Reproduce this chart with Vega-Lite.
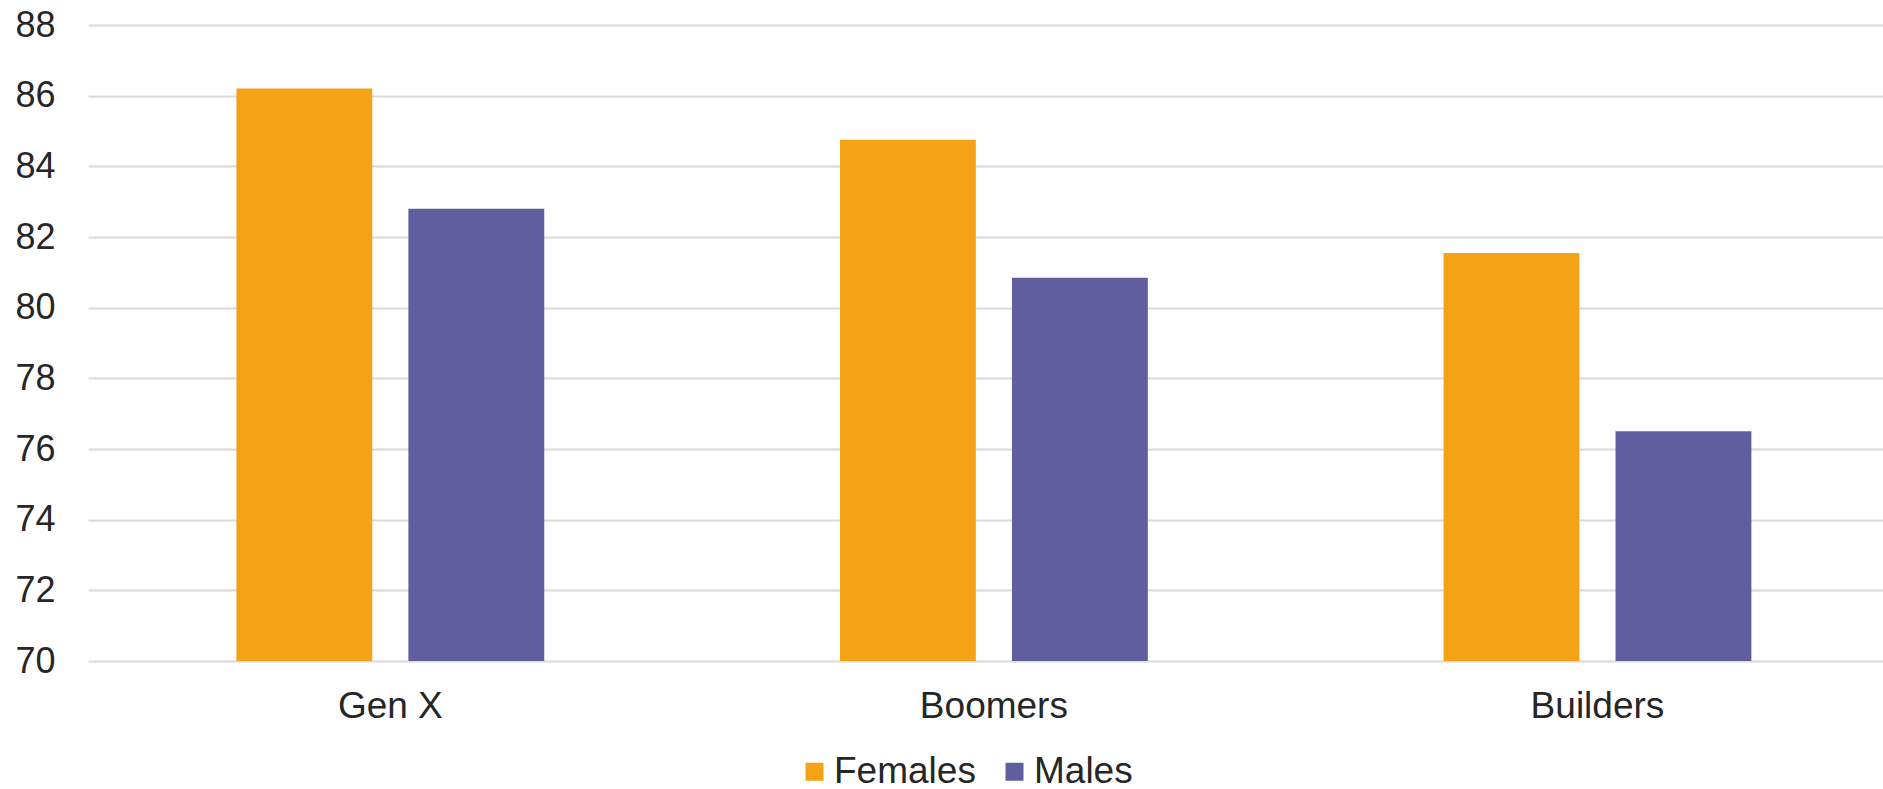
{
  "$schema": "https://vega.github.io/schema/vega-lite/v6.json",
  "autosize": {"type": "none"},
  "padding": {"left": 88, "top": 25, "right": 0, "bottom": 128},
  "width": 1795,
  "height": 636,
  "background": "white",
  "config": {
    "view": {"stroke": null},
    "font": "Liberation Sans"
  },
  "data": {
    "values": [
      {"generation": "Gen X", "sex": "Females", "value": 86.2},
      {"generation": "Gen X", "sex": "Males", "value": 82.8},
      {"generation": "Boomers", "sex": "Females", "value": 84.75},
      {"generation": "Boomers", "sex": "Males", "value": 80.85},
      {"generation": "Builders", "sex": "Females", "value": 81.55},
      {"generation": "Builders", "sex": "Males", "value": 76.5}
    ]
  },
  "mark": {"type": "bar"},
  "encoding": {
    "x": {
      "field": "generation",
      "type": "nominal",
      "sort": ["Gen X", "Boomers", "Builders"],
      "scale": {"paddingInner": 0.49, "paddingOuter": 0.232, "align": 0.53},
      "axis": {
        "title": null,
        "labelAngle": 0,
        "labelFontSize": 37,
        "labelColor": "#262626",
        "labelBaseline": "alphabetic",
        "labelPadding": 56,
        "ticks": false,
        "domain": false,
        "grid": false
      }
    },
    "xOffset": {
      "field": "sex",
      "type": "nominal",
      "sort": ["Females", "Males"],
      "scale": {"paddingInner": 0.21, "paddingOuter": 0}
    },
    "y": {
      "field": "value",
      "type": "quantitative",
      "scale": {"domain": [70, 88], "zero": false, "nice": false},
      "axis": {
        "title": null,
        "values": [70, 72, 74, 76, 78, 80, 82, 84, 86, 88],
        "labelFontSize": 36,
        "labelColor": "#262626",
        "labelPadding": 33,
        "ticks": false,
        "domain": false,
        "grid": true,
        "gridColor": "#d9d9d9",
        "gridWidth": 2
      }
    },
    "y2": {"datum": 70},
    "color": {
      "field": "sex",
      "type": "nominal",
      "sort": ["Females", "Males"],
      "scale": {"domain": ["Females", "Males"], "range": ["#F5A316", "#625D9E"]},
      "legend": {
        "title": null,
        "orient": "none",
        "direction": "horizontal",
        "legendX": 708,
        "legendY": 728,
        "padding": 0,
        "symbolType": "square",
        "symbolSize": 324,
        "symbolStrokeWidth": 0,
        "symbolOpacity": 1,
        "labelFontSize": 37,
        "labelColor": "#262626",
        "labelOffset": 1,
        "columnPadding": 20
      }
    }
  }
}
